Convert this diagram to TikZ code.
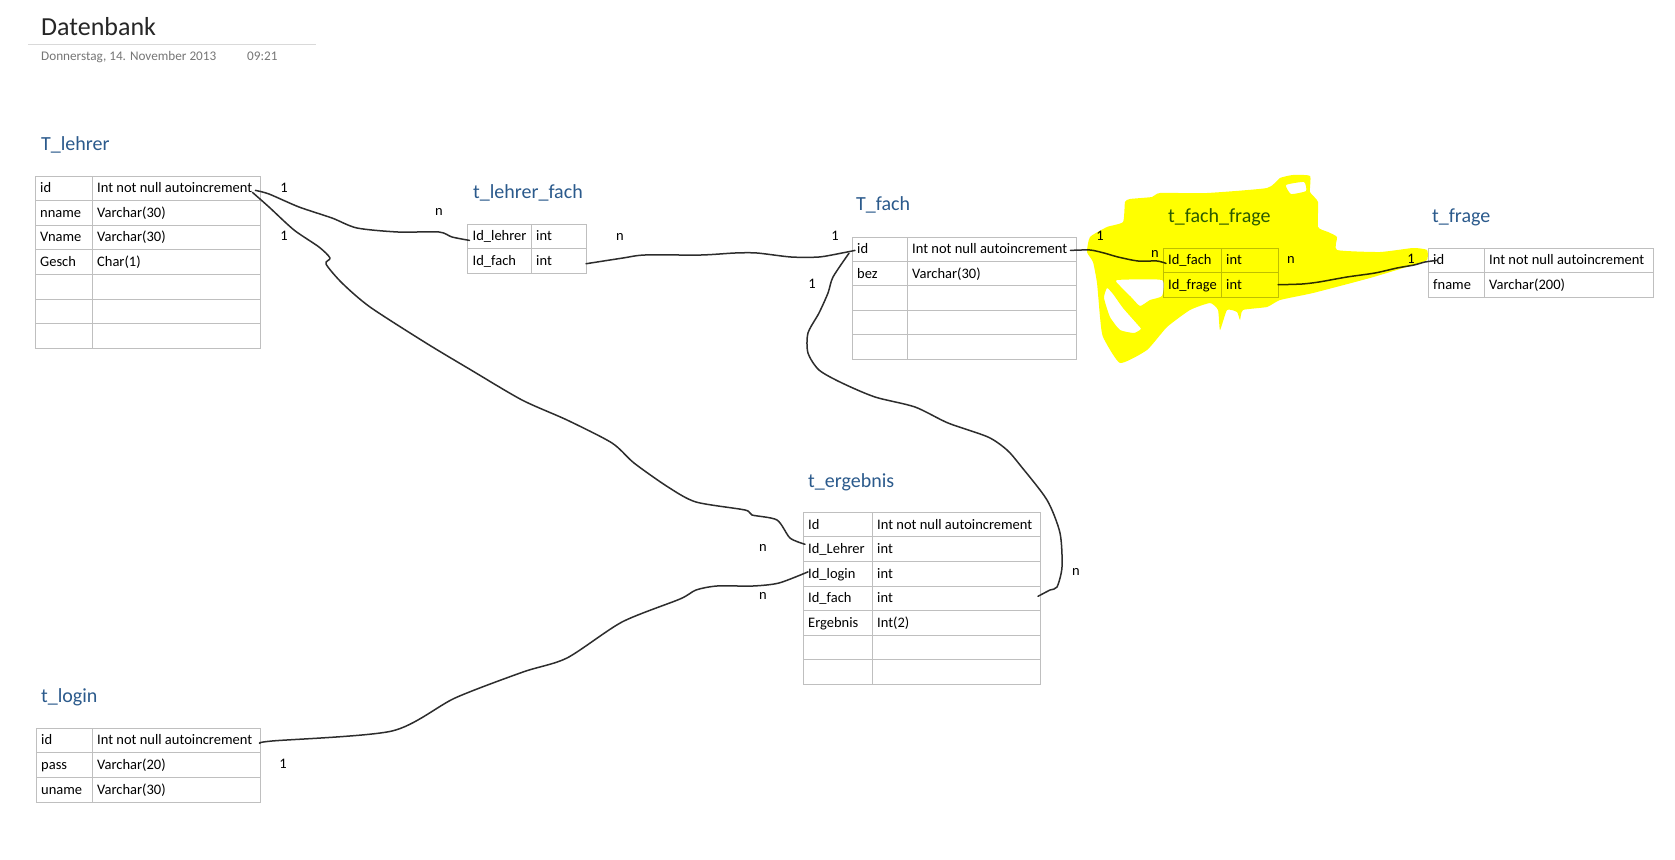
\documentclass[tikz,border=0pt]{standalone}
\usepackage{fontspec}
\setmainfont{Carlito}
\definecolor{gridc}{RGB}{191,191,191}
\definecolor{ttlc}{RGB}{43,90,140}
\definecolor{datec}{RGB}{118,118,118}
\definecolor{connc}{RGB}{45,45,45}
\definecolor{hlc}{RGB}{255,255,0}
\definecolor{hdrline}{RGB}{217,217,217}
\newcommand\dbtable[8]{%
  \draw[grid] (#2,#5) rectangle (#4,{#5+#6*#7});
  \draw[grid] (#3,#5) -- (#3,{#5+#6*#7});
  \foreach \k in {1,...,#7}{%
    \draw[grid] (#2,{#5+#6*\k}) -- (#4,{#5+#6*\k});
    \coordinate (#1-r\k-e) at (#4,{#5+#6*(\k-0.5)});
    \coordinate (#1-r\k-w) at (#2,{#5+#6*(\k-0.5)});
  }
  \foreach \a/\b [count=\r] in {#8}{%
    \node[cell] (#1-\r-a) at ({#2+5},{#5+#6*(\r-1)+16.7}) {\a};
    \node[cell] (#1-\r-b) at ({#3+5},{#5+#6*(\r-1)+16.7}) {\b};
  }
}
\begin{document}
\begin{tikzpicture}[x=1pt,y=-1pt,
  grid/.style={draw=gridc,line width=1pt},
  cell/.style={anchor=base west,inner sep=0pt,text height=9.3pt,text depth=2.7pt,font=\fontsize{14.5pt}{17pt}\selectfont},
  ttl/.style={anchor=base west,inner sep=0pt,text=ttlc,font=\fontsize{20pt}{24pt}\selectfont},
  lbl/.style={inner sep=0pt,font=\fontsize{14.5pt}{17pt}\selectfont},
  conn/.style={draw=connc,line width=1.5pt,line join=round,line cap=round}]
\useasboundingbox (0,0) rectangle (1675,859);
\fill[white] (0,0) rectangle (1675,859);

% header
\node[anchor=base west,inner sep=0pt,text=black!85,font=\fontsize{26pt}{30pt}\selectfont] (title) at (41,36) {Datenbank};
\draw[hdrline,line width=1pt] (28,45) -- (316,45);
\node[anchor=base west,inner sep=0pt,text=datec,font=\fontsize{13.2pt}{16pt}\selectfont] (date) at (41,60) {Donnerstag, 14. November 2013};
\node[anchor=base west,inner sep=0pt,text=datec,font=\fontsize{13.2pt}{16pt}\selectfont] (time) at (247,60) {09:21};

% titles
\node[ttl] (t-lehrer) at (41,150) {T\_lehrer};
\node[ttl] (t-lf) at (473,198) {t\_lehrer\_fach};
\node[ttl] (t-fach) at (856,210) {T\_fach};
\node[ttl] (t-ff) at (1168,222) {t\_fach\_frage};
\node[ttl] (t-frage) at (1432,222) {t\_frage};
\node[ttl] (t-erg) at (808,487) {t\_ergebnis};
\node[ttl] (t-login) at (41,702) {t\_login};

% tables
\dbtable{lehrer}{35}{92}{260}{176}{24.6}{7}{id/Int not null autoincrement,nname/Varchar(30),Vname/Varchar(30),Gesch/Char(1)}
\dbtable{lf}{467.5}{531}{586}{224}{24.5}{2}{Id\_lehrer/int,Id\_fach/int}
\dbtable{fach}{852}{907}{1076}{237}{24.4}{5}{id/Int not null autoincrement,bez/Varchar(30)}
\dbtable{ff}{1163}{1221}{1278}{248}{24.5}{2}{Id\_fach/int,Id\_frage/int}
\dbtable{frage}{1428}{1484}{1653}{248}{24.5}{2}{id/Int not null autoincrement,fname/Varchar(200)}
\dbtable{erg}{803}{872}{1040}{512.3}{24.57}{7}{Id/Int not null autoincrement,Id\_Lehrer/int,Id\_login/int,Id\_fach/int,Ergebnis/Int(2)}
\dbtable{login}{36}{92}{260}{728}{24.67}{3}{id/Int not null autoincrement,pass/Varchar(20),uname/Varchar(30)}

% connectors
\draw[conn] plot[smooth,tension=0.45] coordinates {([shift={(3,1)}]lehrer-1-b.east) (269,194) (299,207) (332,218) (357,228) (398,232) (439,232) (452,237) ([shift={(-3,3)}]lf-1-a.west)};
\draw[conn] plot[smooth,tension=0.45] coordinates {([shift={(0,3)}]lehrer-1-b.east) (269,207) (294,230) (319,247) (330,258) (326,264) (342,283) (370,307) (426,343) (471,370) (522,400) (567,420) (612,443) (634,463) (668,487) (696,502) (745,510) (752,515) (777,520) (790,538) ([shift={(-3,-6)}]erg-2-a.west)};
\draw[conn] plot[smooth,tension=0.45] coordinates {([shift={(0,3)}]lf-r2-e) (623,258) (645,255) (701,255) (735,253) (757,253) (791,257) (819,257) (842,253) ([shift={(-2,0)}]fach-1-a.west)};
\draw[conn] plot[smooth,tension=0.45] coordinates {([shift={(-3,4)}]fach-r1-w) (833,277) (828,293) (819,313) (808,333) (808,353) (819,370) (842,383) (875,397) (915,407) (948,423) (988,437) (1007,450) (1020,465) (1047,500) (1060,533) (1062,567) (1057,587) (1050,590) ([shift={(-2,-2)}]erg-r4-e)};
\draw[conn] plot[smooth,tension=0.45] coordinates {([shift={(3,0)}]fach-1-b.east) (1090,250) (1104,253) (1118,257) (1138,261) (1157,261) ([shift={(-2,2)}]ff-1-a.west)};
\draw[conn] plot[smooth,tension=0.45] coordinates {(ff-r2-e) (1302,284) (1319,282) (1347,277) (1375,273) (1397,268) (1414,265) (1425,262) ([shift={(4,-1)}]frage-1-a.west)};
\draw[conn] plot[smooth,tension=0.45] coordinates {([shift={(0,3)}]login-r1-e) (272,741) (392,731) (455,698) (523,672) (567,658) (622,622) (680,599) (696,590) (717,586) (753,586) (779,583) ([shift={(0,-3)}]erg-3-a.west)};

% cardinality labels
\node[lbl] (c1) at (284,188) {1};
\node[lbl] (c2) at (284,236) {1};
\node[lbl] (c3) at (439,212) {n};
\node[lbl] (c4) at (620,237) {n};
\node[lbl] (c5) at (835,236) {1};
\node[lbl] (c6) at (812,284) {1};
\node[lbl] (c7) at (1100,236) {1};
\node[lbl] (c8) at (1155,254) {n};
\node[lbl] (c9) at (1291,260) {n};
\node[lbl] (c10) at (1411,259) {1};
\node[lbl] (c11) at (763,548) {n};
\node[lbl] (c12) at (763,596) {n};
\node[lbl] (c13) at (1076,572) {n};
\node[lbl] (c14) at (283,764) {1};

% highlighter scribble
\begin{scope}[blend mode=multiply]
\fill[hlc,even odd rule]
  plot[smooth cycle,tension=0.3] coordinates {(1087,252) (1090,237) (1107,227) (1123,222) (1125,202) (1130,199) (1152,197) (1160,193) (1207,193) (1267,188) (1280,178) (1293,175) (1310,176) (1310,192) (1318,202) (1318,227) (1328,232) (1337,237) (1337,250) (1380,252) (1413,248) (1427,250) (1427,260) (1413,265) (1370,278) (1313,293) (1280,300) (1267,307) (1243,310) (1240,320) (1237,312) (1227,310) (1220,330) (1218,310) (1210,303) (1190,310) (1167,327) (1147,350) (1120,363) (1103,337) (1100,317) (1097,283) (1093,262)}
  plot[smooth cycle,tension=0.3] coordinates {(1117,280) (1162,280) (1162,296) (1150,300) (1140,306) (1131,297) (1120,286)}
  plot[smooth cycle,tension=0.3] coordinates {(1107,288) (1113,294) (1123,308) (1138,325) (1141,329) (1134,333) (1120,330) (1110,317) (1104,298)}
  plot[smooth cycle,tension=0.3] coordinates {(1286,185) (1304,182) (1306,191) (1291,194)};
\end{scope}
\end{tikzpicture}
\end{document}
